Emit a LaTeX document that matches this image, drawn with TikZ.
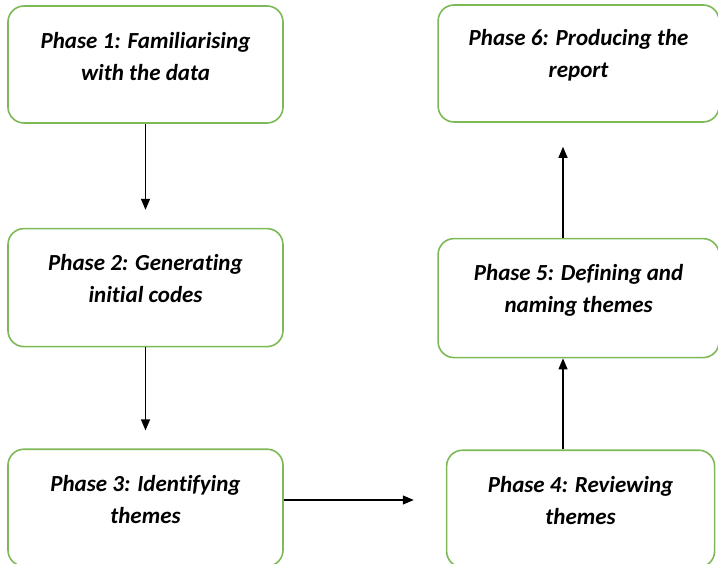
\documentclass[tikz,border=0pt]{standalone}
\usepackage{fontspec}
\setmainfont{Carlito}[Ligatures=NoCommon]
\usepackage{xcolor}
\usetikzlibrary{positioning, arrows.meta}
\definecolor{phasegreen}{HTML}{7DBA57}

\begin{document}
\begin{tikzpicture}[
      x=1pt, y=-1pt,
      % Styling nodes
      base/.style={
        draw=phasegreen,
        line width=1.6pt,
        rectangle,
        rounded corners=16pt,
        fill=white,
        minimum height=117pt
      },
      leftnode/.style={base, minimum width=275pt},
      rightnode/.style={base, minimum width=281pt},
      phasetext/.style={
        align=center,
        font=\fontsize{23}{32}\selectfont\bfseries\itshape,
        inner sep=0pt
      },
      arrow/.style={-{Triangle[length=11pt, width=9pt]}, line width=1.2pt}
    ]

    \useasboundingbox (0,0) rectangle (718,564);

    % Left column, top to bottom
    \node (p1) [leftnode] at (145.5,64.5) {};
    \node (p2) [leftnode, below=104pt of p1, minimum height=118pt] {};
    \node (p3) [leftnode, below=101pt of p2] {};

    % Right column, bottom to top
    \node (p4) [base, minimum width=268pt, right=162pt of p3, yshift=-1pt] {};
    \node (p5) [rightnode, above=91pt of p4, xshift=-2pt, minimum height=119pt] {};
    \node (p6) [rightnode, above=115pt of p5] {};

    % Phase texts
    \node (t1) [phasetext] at ([yshift=8pt]p1.center) {Phase 1: Familiarising\\with the data};
    \node (t2) [phasetext] at ([yshift=9pt]p2.center) {Phase 2: Generating\\initial codes};
    \node (t3) [phasetext] at ([yshift=8pt]p3.center) {Phase 3: Identifying\\themes};
    \node (t4) [phasetext] at ([yshift=8pt]p4.center) {Phase 4: Reviewing\\themes};
    \node (t5) [phasetext] at ([yshift=8pt]p5.center) {Phase 5: Defining and\\naming themes};
    \node (t6) [phasetext] at ([yshift=8pt]p6.center) {Phase 6: Producing the\\report};

    % Arrows
    \draw[arrow, shorten >=18pt] (p1) -- (p2);
    \draw[arrow, shorten >=18pt] (p2) -- (p3);
    \draw[arrow, shorten >=32pt] (p3.east |- 0,500) -- (p4.west |- 0,500);
    \draw[arrow] (p4.north -| 563,0) -- (p5.south -| 563,0);
    \draw[arrow, shorten >=24pt] (p5.north -| 563,0) -- (p6.south -| 563,0);

  \end{tikzpicture}
\end{document}
